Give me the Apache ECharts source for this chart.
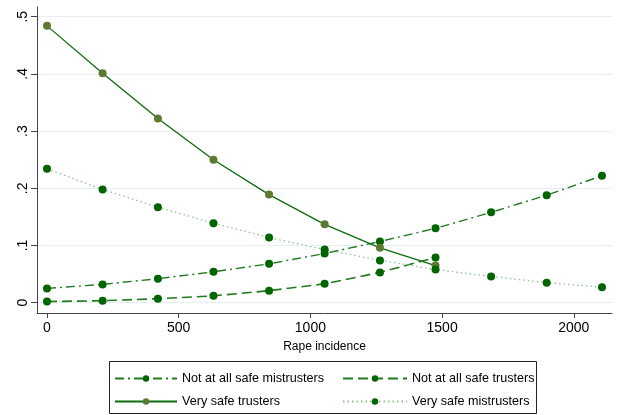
<!DOCTYPE html>
<html><head><meta charset="utf-8">
<script src="https://cdn.jsdelivr.net/npm/echarts@6/dist/echarts.min.js"></script>
<style>html,body{margin:0;padding:0;background:#fff}#c{width:620px;height:415px}</style>
</head><body><div id="c"></div>
<script>
const incidence = [0, 211, 421, 632, 843, 1054, 1264, 1475, 1686, 1897, 2107];
const notAtAllSafeMistrusters = [0.025, 0.032, 0.042, 0.054, 0.068, 0.086, 0.107, 0.130, 0.158, 0.188, 0.222];
const notAtAllSafeTrusters = [0.002, 0.0035, 0.007, 0.012, 0.021, 0.033, 0.053, 0.079];
const verySafeTrusters = [0.484, 0.401, 0.322, 0.250, 0.189, 0.137, 0.096, 0.065];
const verySafeMistrusters = [0.234, 0.198, 0.167, 0.139, 0.114, 0.093, 0.074, 0.058, 0.046, 0.035, 0.027];
const xTicks = [0, 500, 1000, 1500, 2000];
const yTicks = [0, 0.1, 0.2, 0.3, 0.4, 0.5];
const names = ['Not at all safe mistrusters', 'Not at all safe trusters', 'Very safe trusters', 'Very safe mistrusters'];

const pair = (vals) => vals.map((v, i) => [incidence[i], v]);
const dark = '#006400';
const olive = '#5d7a33';
const font = 'Liberation Sans, Arial, sans-serif';

const chart = echarts.init(document.getElementById('c'), null, {renderer: 'canvas'});
chart.setOption({
  animation: false,
  backgroundColor: '#fff',
  grid: {left: 37, right: 8, top: 7, bottom: 102, containLabel: false},
  xAxis: {
    type: 'value', min: -38, max: 2145,
    name: 'Rape incidence', nameLocation: 'middle', nameGap: 28,
    nameTextStyle: {fontFamily: font, fontSize: 12, color: '#000'},
    axisLine: {show: true, onZero: false, lineStyle: {color: '#444', width: 1}},
    axisTick: {show: true, length: 5, customValues: xTicks, lineStyle: {color: '#444'}},
    axisLabel: {customValues: xTicks, fontFamily: font, fontSize: 14, color: '#000', margin: 8,
      formatter: v => String(Math.round(v))},
    splitLine: {show: false}
  },
  yAxis: {
    type: 'value', min: -0.018, max: 0.517,
    axisLine: {show: true, onZero: false, lineStyle: {color: '#444', width: 1}},
    axisTick: {show: true, length: 6, customValues: yTicks, lineStyle: {color: '#444'}},
    axisLabel: {customValues: yTicks, rotate: 90, fontFamily: font, fontSize: 14, color: '#000', margin: 7,
      formatter: v => Math.abs(v) < 1e-9 ? '0' : v.toFixed(1).replace(/^0/, '')},
    splitLine: {show: true, lineStyle: {color: '#e6eff1', width: 1.2}}
  },
  legend: [
    {data: [names[0], names[2]], orient: 'vertical', left: 109, top: 367, itemWidth: 62, itemHeight: 8, itemGap: 10,
     textStyle: {fontFamily: font, fontSize: 12.6, color: '#000'}},
    {data: [names[1], names[3]], orient: 'vertical', left: 337, top: 367, itemWidth: 64, itemHeight: 8, itemGap: 10,
     textStyle: {fontFamily: font, fontSize: 12.6, color: '#000'}}
  ],
  graphic: [{type: 'rect', shape: {x: 109.5, y: 361.5, width: 427, height: 52},
    style: {fill: 'none', stroke: '#222', lineWidth: 1}}],
  series: [
    {name: names[0], type: 'line', data: pair(notAtAllSafeMistrusters), symbol: 'circle', symbolSize: 8,
     itemStyle: {color: dark}, lineStyle: {color: '#1f7a1f', width: 1.4, type: [9, 4, 2, 4]}},
    {name: names[1], type: 'line', data: pair(notAtAllSafeTrusters), symbol: 'circle', symbolSize: 8,
     itemStyle: {color: dark}, lineStyle: {color: '#1f7a1f', width: 1.6, type: [10, 5]}},
    {name: names[2], type: 'line', data: pair(verySafeTrusters), symbol: 'circle', symbolSize: 8,
     itemStyle: {color: olive}, lineStyle: {color: '#0c6b0c', width: 1.3, type: 'solid'}},
    {name: names[3], type: 'line', data: pair(verySafeMistrusters), symbol: 'circle', symbolSize: 8,
     itemStyle: {color: dark}, lineStyle: {color: '#8fbf8f', width: 1.3, type: [1.5, 3]}}
  ]
});
</script></body></html>
